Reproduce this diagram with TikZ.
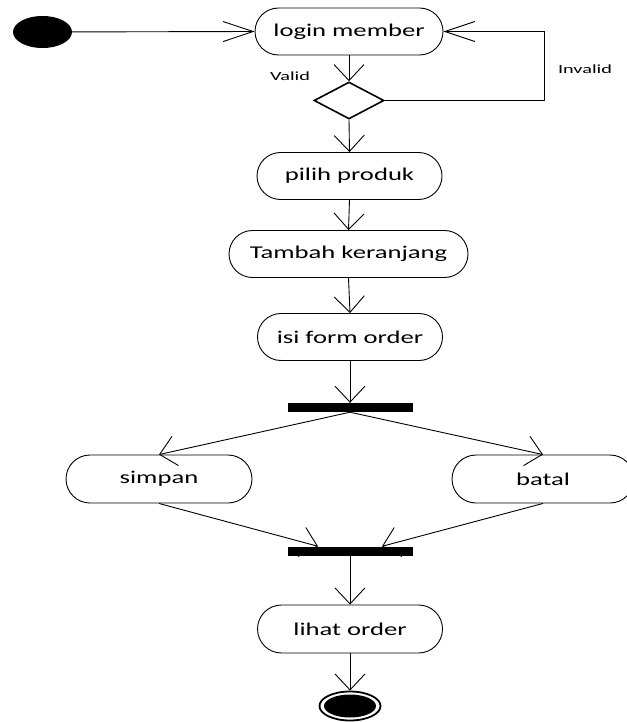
\documentclass[tikz,border=0pt]{standalone}
\usepackage{fontspec}
\newfontfamily\actfont{Carlito}[FakeStretch=1.48]
\newfontfamily\guardfont{Carlito}[FakeStretch=1.62]
\usetikzlibrary{arrows.meta,shapes.geometric,shapes.misc}
\begin{document}
\begin{tikzpicture}[x=1pt,y=-1pt,
  act/.style={rounded rectangle,rounded rectangle arc length=180,draw,line width=0.9pt,
    minimum height=47pt,inner sep=0pt,font=\fontsize{18}{21}\actfont},
  guard/.style={font=\fontsize{12.5}{14}\guardfont,inner sep=0pt},
  flow/.style={line width=0.9pt,-{Straight Barb[length=16pt,width=30pt,line width=0.9pt]}},
  flowh/.style={line width=0.9pt,-{Straight Barb[length=30pt,width=20pt,line width=0.9pt]}},
  bar/.style={fill=black,draw=none,minimum width=125pt,minimum height=9pt,inner sep=0pt},
  startnode/.style={ellipse,fill=black,minimum width=59pt,minimum height=32pt,inner sep=0pt},
  decision/.style={diamond,draw,line width=1.6pt,minimum width=70pt,minimum height=37pt,inner sep=0pt},
]
\useasboundingbox (0,0) rectangle (626,722);

% initial and final states
\node[startnode] (s) at (42.5,32) {};
\node[ellipse,draw,line width=1.8pt,minimum width=61pt,minimum height=29pt,inner sep=0pt] (e) at (350,706) {};
\node[ellipse,fill=black,minimum width=52pt,minimum height=23pt,inner sep=0pt] (ein) at (350,706) {};

% activities
\node[act,minimum width=188pt] (login) at (349,31.5) {login member};
\node[decision] (d) at (349,100.5) {};
\node[act,minimum width=185pt] (pilih) at (349.5,176) {pilih produk};
\node[act,minimum width=239pt] (tambah) at (348.5,254) {Tambah keranjang};
\node[act,minimum width=185pt] (isi) at (350,337) {isi form order};
\node[bar] (fork) at (350,407.5) {};
\node[act,minimum width=186pt,minimum height=48pt] (simpan) at (159,479) {simpan};
\node[act,minimum width=182pt,minimum height=48pt] (batal) at (543,479) {batal};
\node[bar] (join) at (350,551) {};
\node[act,minimum width=185pt,minimum height=48pt] (lihat) at (350,629) {lihat order};

% guard labels
\node[guard] (lv) at (290,76) {Valid};
\node[guard] (li) at (585,69) {Invalid};

% connectors
\coordinate (loop) at (544,100.5);
\draw[flowh] (s) -- (login.west);
\draw[flow] (login.south) -- (d.north);
\draw[flowh] (d.east) -- (loop) |- (login.east);
\draw[flow] (d.south) -- (pilih.north);
\draw[flow] (pilih.south) -- (tambah.north);
\draw[flow] (tambah.south) -- (isi.north);
\draw[flow] (isi.south) -- (fork.north);
\draw[flow] (fork.south) -- (simpan.north);
\draw[flow] (fork.south) -- (batal.north);
\draw[flow] (simpan.south) -- ([xshift=-32pt]join.north);
\draw[flow] (batal.south) -- ([xshift=32pt]join.north);
\draw[flow] (join.south) -- (lihat.north);
\draw[flow] (lihat.south) -- (e.north);
\end{tikzpicture}
\end{document}
